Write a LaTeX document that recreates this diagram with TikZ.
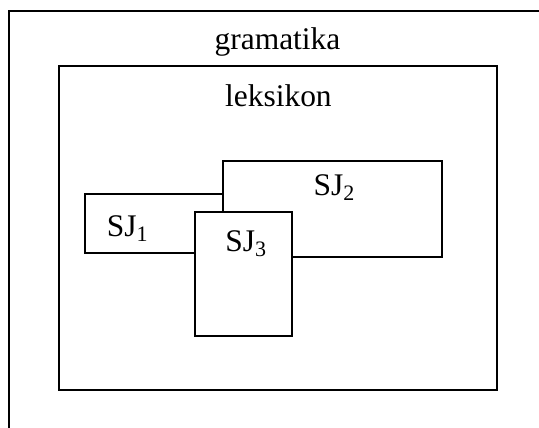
\documentclass[tikz,border=0pt]{standalone}
\usepackage{fontspec}
\setmainfont{Liberation Serif}
\usetikzlibrary{calc}

\begin{document}
\begin{tikzpicture}[x=0.75pt,y=0.75pt,yscale=-1,xscale=1,
    frame/.style={draw, line width=1.5pt, line join=miter},
    setbox/.style={frame, fill=white},
    lbl/.style={inner sep=0pt, font=\fontsize{23.6}{28}\selectfont}]
                \useasboundingbox (0,0) rectangle (539,428);
                %Straight Lines [id:gramatika]
                \draw [frame]    (539,11) -- (9,11) -- (9,428) ;
                \node [lbl, anchor=base] (gram) at (277.5,50) {gramatika};
                %Shape: Rectangle [id:leksikon]
                \draw [frame]    (58.7,66.3) rectangle (496.7,390.3) ;
                \node [lbl, anchor=base] (leks) at (278.4,106.7) {leksikon};
                %Shape: Rectangle [id:sj1]
                \draw [setbox]    (85,194.3) rectangle (230,252.7) ;
                \node [lbl, anchor=base west] (sj1) at (106.7,236.7) {SJ\textsubscript{1}};
                %Shape: Rectangle [id:sj2]
                \draw [setbox]    (223.3,160.7) rectangle (441.7,256.5) ;
                \node [lbl, anchor=base west] (sj2) at (313.3,195.7) {SJ\textsubscript{2}};
                %Shape: Rectangle [id:sj3]
                \draw [setbox]    (194.7,212) rectangle (292,336) ;
                \node [lbl, anchor=base west] (sj3) at (225,251.7) {SJ\textsubscript{3}};
        \end{tikzpicture}
\end{document}
